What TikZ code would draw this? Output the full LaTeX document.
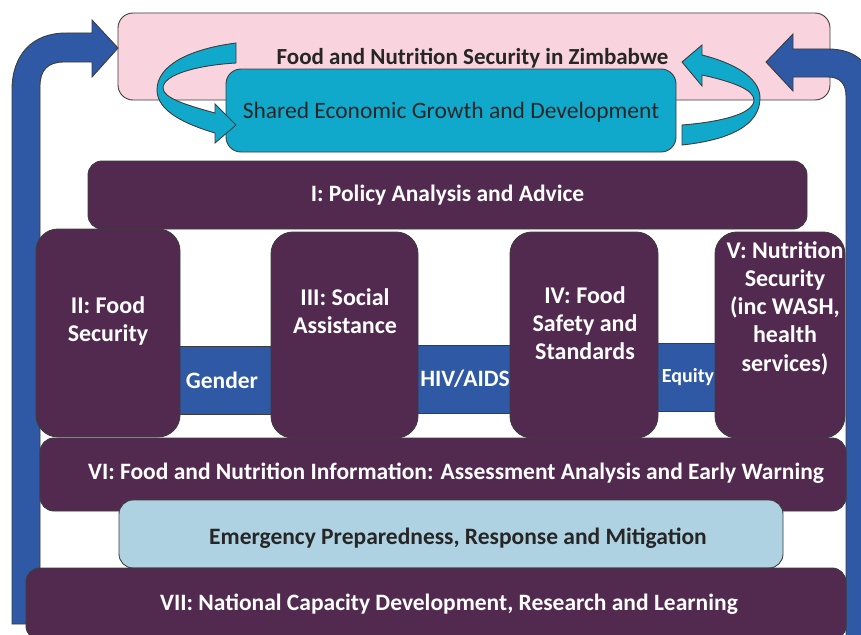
\documentclass[tikz,border=0pt]{standalone}
\usepackage{fontspec}
\setmainfont{Carlito}
\usetikzlibrary{positioning}

\definecolor{fnsPurple}{HTML}{532A4F}
\definecolor{fnsBlue}{HTML}{2F58A5}
\definecolor{fnsTeal}{HTML}{10A9CC}
\definecolor{fnsPink}{HTML}{F9D4DE}
\definecolor{fnsPale}{HTML}{AED2E2}
\definecolor{fnsLine}{HTML}{3C3C3C}

\begin{document}
\begin{tikzpicture}[x=1pt, y=-1pt,
    outline/.style={draw=fnsLine, line width=0.9pt},
    goal/.style={outline, fill=fnsPink, rounded corners=15pt, inner sep=0pt},
    growth/.style={outline, fill=fnsTeal, rounded corners=15pt, inner sep=0pt},
    pillar/.style={outline, fill=fnsPurple, rounded corners=14pt, inner sep=0pt, text=white, font=\bfseries\fontsize{23.5}{28}\selectfont},
    label text/.style={inner sep=0pt, text=white, font=\bfseries\fontsize{23.5}{28}\selectfont},
    column/.style={outline, fill=fnsPurple, rounded corners=22pt, inner sep=0pt, minimum height=206},
    coltext/.style={inner sep=0pt, text=white, align=center, font=\bfseries\fontsize{24}{28.2}\selectfont},
    band/.style={outline, fill=fnsBlue, inner sep=0pt, minimum height=68, text=white, font=\bfseries\fontsize{23.5}{28}\selectfont},
    emergency/.style={outline, fill=fnsPale, rounded corners=14pt, inner sep=0pt},
    loop/.style={outline, fill=fnsTeal},
    feedback/.style={outline, fill=fnsBlue}]

    \useasboundingbox (0,0) rectangle (861,634);
    \clip (0,0) rectangle (861,634);

    % top goal and growth boxes
    \node (goal) [goal, minimum width=712, minimum height=87] at (474,56.5) {};
    \node (goaltext) at (472.5,58.5) [label text, text=black!85, font=\bfseries\fontsize{23}{28}\selectfont] {Food and Nutrition Security in Zimbabwe};
    \node (growth) [growth, minimum width=450, minimum height=83] at (451,110.5) {};
    \node (growthtext) at (451,112) [label text, text=black!85, font=\fontsize{23.5}{28}\selectfont] {Shared Economic Growth and Development};

    % curved arrows linking the two
    \filldraw[loop] (236,43) .. controls (190,49) and (157,65) .. (157,90)
        .. controls (157,112) and (188,125) .. (215,133) -- (215,143) -- (236,125)
        -- (215,104) -- (215,113) .. controls (186,105) and (163,98) .. (163,88)
        .. controls (163,74) and (200,65) .. (236,63) -- cycle;
    \filldraw[loop] (682,145) .. controls (730,140) and (760,125) .. (760,98)
        .. controls (760,76) and (730,62) .. (702,55) -- (702,45) -- (682,62)
        -- (702,86) -- (702,75) .. controls (734,82) and (754,90) .. (754,100)
        .. controls (754,114) and (720,122) .. (682,125) -- cycle;

    % feedback arrows up both sides
    \filldraw[feedback] (12,624) -- (12,90) .. controls (12,55) and (32,33) .. (66,33)
        -- (92,33) -- (92,20) -- (118,48) -- (92,77) -- (92,62) -- (64,62)
        .. controls (48,62) and (40,70) .. (40,86) -- (40,624) -- cycle;
    \filldraw[feedback] (793,49) -- (828,49) .. controls (858,49) and (874,66) .. (874,96)
        -- (874,640) -- (846,640) -- (846,96) .. controls (846,84) and (840,77) .. (828,77)
        -- (793,77) -- (793,91) -- (766,62) -- (793,34) -- cycle;

    % policy box
    \node (policy) [pillar, minimum width=719, minimum height=68] at (447.5,195) {I: Policy Analysis and Advice};

    % cross-cutting bands
    \node (gender) [band, minimum width=120] at (222,380.5) {Gender};
    \node (hiv) [band, minimum width=120] at (465,379) {HIV/AIDS};
    \node (equity) [band, minimum width=90, font=\bfseries\fontsize{20}{24}\selectfont] at (688,377) {Equity};

    % pillar columns
    \node (food) [column, minimum width=144, minimum height=208] at (108,333) {};
    \node (social) [column, minimum width=147] at (344.5,335) {};
    \node (safety) [column, minimum width=148] at (584,335) {};
    \node (nutrition) [column, minimum width=130] at (780,335) {};
    \node (foodtext) [coltext] at (108,321) {II: Food\\Security};
    \node (socialtext) [coltext] at (345,311) {III: Social\\Assistance};
    \node (safetytext) [coltext] at (585,323) {IV: Food\\Safety and\\Standards};
    \node (nutritiontext) [coltext] at (785,308) {V: Nutrition\\Security\\(inc WASH,\\health\\services)};

    % information, emergency and capacity boxes
    \node (info) [pillar, minimum width=806, minimum height=73] at (443,474.5) {};
    \node (infotext) [label text] at (456,473) {VI: Food and Nutrition Information: Assessment Analysis and Early Warning};
    \node (emergency) [emergency, minimum width=664, minimum height=68] at (451,534) {};
    \node (emergencytext) [label text, text=black!85] at (458,538) {Emergency Preparedness, Response and Mitigation};
    \node (capacity) [pillar, minimum width=820, minimum height=72] at (436,604) {};
    \node (capacitytext) [label text] at (449,604) {VII: National Capacity Development, Research and Learning};
\end{tikzpicture}
\end{document}
